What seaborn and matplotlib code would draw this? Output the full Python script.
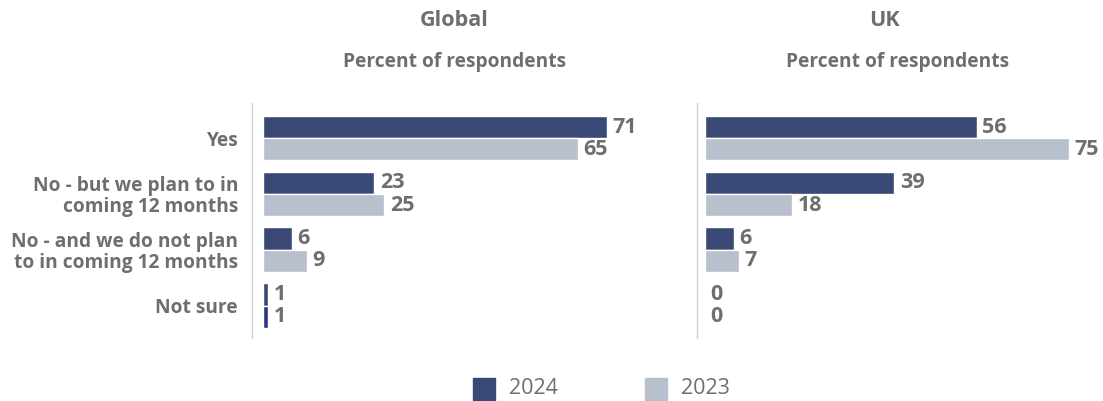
import matplotlib
matplotlib.use("Agg")
import matplotlib.pyplot as plt
import seaborn as sns
import pandas as pd

sns.set_theme(style="white")
plt.rcParams["font.family"] = ["Open Sans", "DejaVu Sans"]

categories = [
    "Yes",
    "No - but we plan to in\ncoming 12 months",
    "No - and we do not plan\nto in coming 12 months",
    "Not sure",
]
years = ["2024", "2023"]
global_2024 = [71, 23, 6, 1]
global_2023 = [65, 25, 9, 1]
uk_2024 = [56, 39, 6, 0]
uk_2023 = [75, 18, 7, 0]

dark = "#3a4875"
light = "#b8bfcd"
accent = "#2c3587"
text_grey = "#6e6e6e"


def long_frame(v24, v23):
    rows = []
    for c, a, b in zip(categories, v24, v23):
        rows.append({"category": c, "year": "2024", "value": a})
        rows.append({"category": c, "year": "2023", "value": b})
    return pd.DataFrame(rows)


W, H = 1103, 401
fig = plt.figure(figsize=(W / 100, H / 100), dpi=100)

top, bottom = 103, 338
panels = [
    ("Global", long_frame(global_2024, global_2023), 252, 690, 454, 455, -2.27, 88.1),
    ("UK", long_frame(uk_2024, uk_2023), 697, 1100, 884, 898, -1.65, 81.4),
]

for idx, (title, df, x0, x1, tx, sx, xmin, xmax) in enumerate(panels):
    ax = fig.add_axes([x0 / W, (H - bottom) / H, (x1 - x0) / W, (bottom - top) / H])
    sns.barplot(
        data=df, y="category", x="value", hue="year", hue_order=years,
        order=categories, palette=[dark, light], width=0.8, orient="h",
        saturation=1, legend=False, ax=ax,
    )
    if title == "Global":
        # the 2023 "Not sure" bar is drawn in a highlight blue
        ax.containers[1].patches[3].set_facecolor(accent)
    for cont in ax.containers:
        ax.bar_label(cont, padding=4, fontsize=15.5, fontweight="bold", color=text_grey)
    ax.set_xlim(xmin, xmax)
    ax.set_ylim(3.58, -0.63)
    ax.set_xlabel("")
    ax.set_ylabel("")
    ax.set_xticks([])
    for s in ["top", "right", "bottom"]:
        ax.spines[s].set_visible(False)
    ax.spines["left"].set_color("#d0d0d0")
    ax.spines["left"].set_linewidth(1)
    ax.tick_params(axis="y", length=0, pad=10)
    if idx == 0:
        for lbl in ax.get_yticklabels():
            lbl.set_fontweight("bold")
            lbl.set_fontsize(13.8)
            lbl.set_color(text_grey)
            lbl.set_linespacing(1.05)
    else:
        ax.set_yticklabels([])
    fig.text(tx / W, 1 - 21 / H, title, ha="center", va="center",
             fontsize=15.5, fontweight="bold", color=text_grey)
    fig.text(sx / W, 1 - 62 / H, "Percent of respondents", ha="center", va="center",
             fontsize=13.8, fontweight="bold", color=text_grey)

# legend
for (color, label, px) in [(dark, "2024", 473), (light, "2023", 645)]:
    fig.patches.append(plt.Rectangle((px / W, 1 - 400 / H), 22 / W, 22 / H,
                                     transform=fig.transFigure, color=color))
    fig.text((px + 36) / W, 1 - 389 / H, label, ha="left", va="center",
             fontsize=15.5, color=text_grey)

fig.savefig("out.png", dpi=100)
